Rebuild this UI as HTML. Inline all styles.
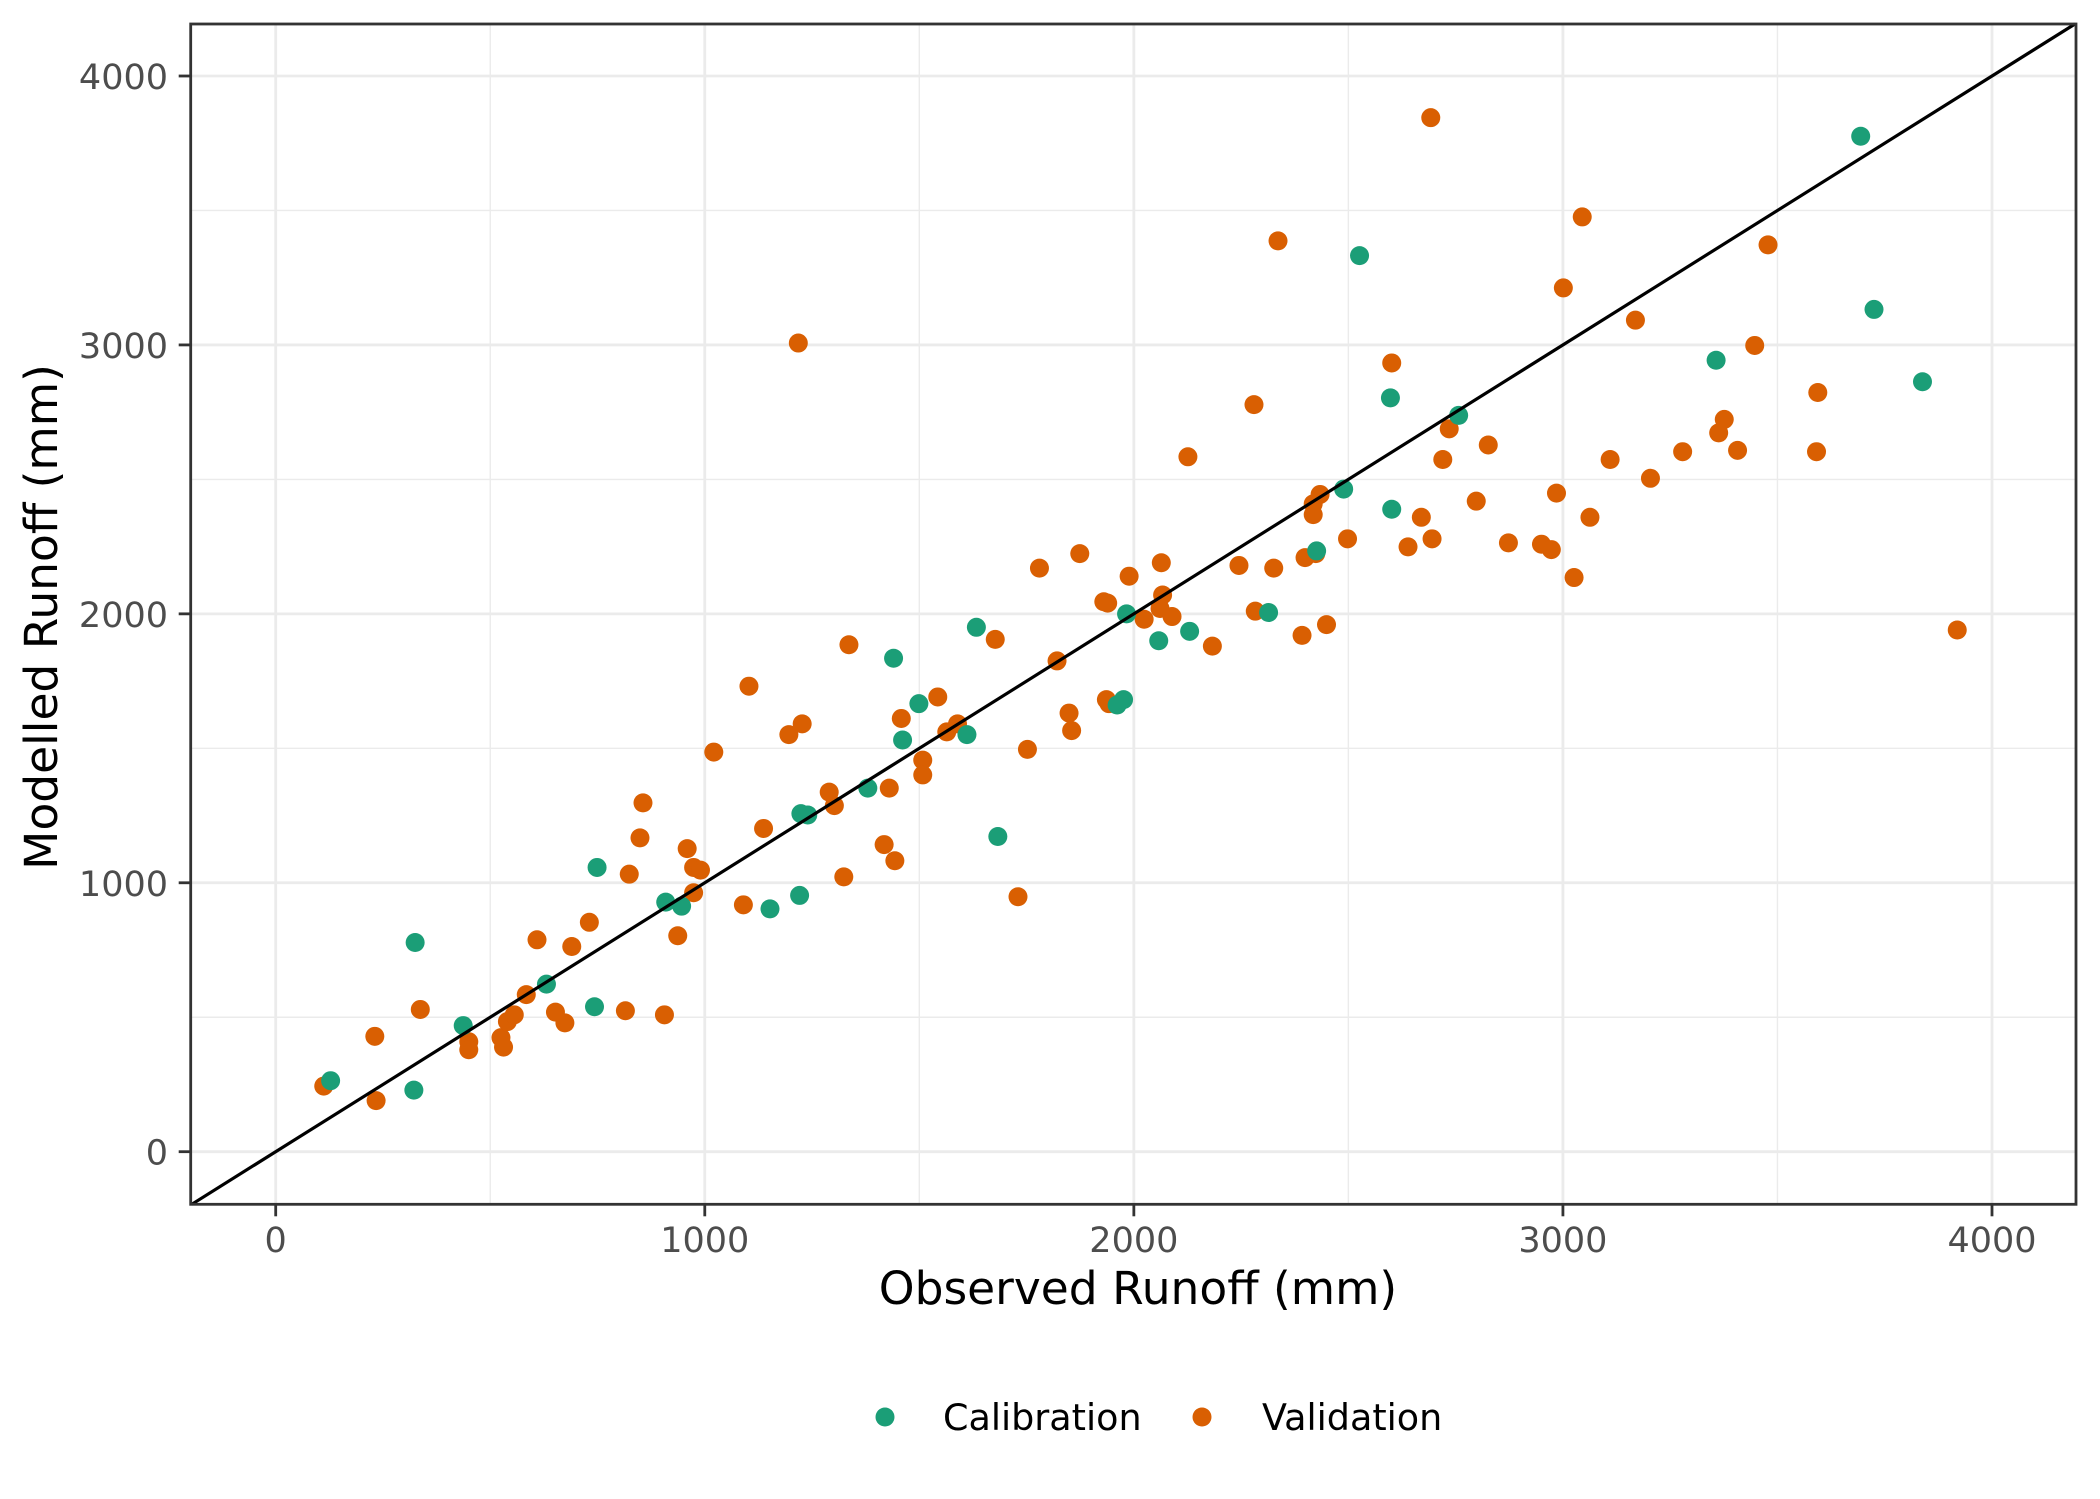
<!DOCTYPE html>
<html><head><meta charset="utf-8"><style>
html,body{margin:0;padding:0;background:#fff;}
svg{display:block;font-family:"DejaVu Sans","Liberation Sans",sans-serif;}
</style></head><body>
<svg id="chart" width="2100" height="1499" viewBox="0 0 2100 1499">
<rect x="0" y="0" width="2100" height="1499" fill="#fff"/>
<g id="grid"></g>
<g id="pts"></g>
<g id="axes"></g>
<text x="1138" y="1304" font-size="45.5" text-anchor="middle" fill="#000">Observed Runoff (mm)</text>
<text transform="translate(57,617) rotate(-90)" font-size="45.5" text-anchor="middle" fill="#000">Modelled Runoff (mm)</text>
<g>
<g>
<circle cx="885" cy="1417" r="9.5" fill="#1b9e77"/>
<text x="943" y="1430" font-size="36.5" fill="#000">Calibration</text>
</g>
<g>
<circle cx="1202" cy="1417" r="9.5" fill="#d95f02"/>
<text x="1262" y="1430" font-size="36.5" fill="#000">Validation</text>
</g>
</g>
</svg>
<script>
const xTicks = [0, 1000, 2000, 3000, 4000];
const yTicks = [0, 1000, 2000, 3000, 4000];
const minorTicks = [500, 1500, 2500, 3500];
const calObs = [128,325,322,437,631,749,743,909,946,1152,1221,1224,1240,1380,1440,1461,1499,1611,1633,1683,1961,1976,1983,2058,2130,2314,2426,2489,2526,2598,2601,2757,3357,3694,3725,3838];
const calMod = [264,778,229,469,623,1057,539,928,913,903,953,1257,1252,1352,1835,1531,1666,1551,1950,1172,1661,1681,2000,1900,1935,2005,2234,2464,3332,2803,2389,2738,2943,3776,3132,2863];
const valObs = [112,231,234,337,450,450,525,531,540,556,584,609,652,674,690,731,815,824,849,856,906,937,959,974,990,974,1021,1090,1103,1137,1196,1218,1227,1290,1302,1324,1336,1418,1430,1443,1458,1508,1508,1543,1564,1589,1677,1730,1752,1780,1821,1849,1855,1874,1930,1939,1936,1942,1989,2024,2061,2064,2067,2089,2126,2183,2245,2280,2283,2326,2336,2392,2399,2418,2418,2424,2434,2449,2498,2601,2639,2670,2692,2695,2720,2735,2798,2826,2873,2950,2973,2985,3001,3026,3045,3063,3110,3169,3204,3279,3363,3376,3407,3447,3478,3594,3591,3919];
const valMod = [244,429,190,529,409,379,424,389,484,509,584,788,519,479,763,853,524,1032,1167,1297,509,803,1127,1057,1047,963,1486,918,1731,1202,1551,3007,1591,1337,1287,1022,1885,1142,1352,1082,1611,1456,1401,1691,1561,1591,1905,948,1496,2170,1825,1631,1566,2224,2045,2040,1681,1666,2140,1980,2020,2190,2070,1990,2584,1880,2180,2778,2010,2170,3387,1920,2209,2409,2369,2224,2444,1960,2279,2933,2249,2359,3845,2279,2574,2688,2419,2628,2264,2259,2239,2449,3212,2135,3476,2359,2574,3092,2504,2603,2673,2723,2608,2998,3372,2823,2603,1940];

const L=190.7, R=2076, T=24, B=1204.3;
const X0=275.7, XS=(1992-275.7)/4000, Y0=1151.7, YS=(1151.7-76)/4000;
const sx = v => X0 + v*XS;
const sy = v => Y0 - v*YS;
const NS="http://www.w3.org/2000/svg";
function mk(tag, attrs, parent){const e=document.createElementNS(NS,tag);for(const k in attrs)e.setAttribute(k,attrs[k]);parent.appendChild(e);return e;}
const grid=document.getElementById('grid'), pts=document.getElementById('pts'), axes=document.getElementById('axes');

minorTicks.forEach(v=>{
  let a=mk('line',{x1:sx(v),x2:sx(v),y1:T,y2:B,stroke:'#ebebeb','stroke-width':1.4},grid);
  
  
  let b=mk('line',{x1:L,x2:R,y1:sy(v),y2:sy(v),stroke:'#ebebeb','stroke-width':1.4},grid);
  
  
});
xTicks.forEach(v=>{
  let a=mk('line',{x1:sx(v),x2:sx(v),y1:T,y2:B,stroke:'#ebebeb','stroke-width':2.8},grid);
  
  
  let t=mk('line',{x1:sx(v),x2:sx(v),y1:B,y2:B+12,stroke:'#333','stroke-width':2.8},axes);
  
  
  let l=mk('text',{x:sx(v),y:1252,'font-size':35,'text-anchor':'middle',fill:'#4d4d4d'},axes);
  l.textContent=v;
  
  
});
yTicks.forEach(v=>{
  let a=mk('line',{x1:L,x2:R,y1:sy(v),y2:sy(v),stroke:'#ebebeb','stroke-width':2.8},grid);
  
  
  let t=mk('line',{x1:L-12,x2:L,y1:sy(v),y2:sy(v),stroke:'#333','stroke-width':2.8},axes);
  
  
  let l=mk('text',{x:168,y:sy(v)+13,'font-size':35,'text-anchor':'end',fill:'#4d4d4d'},axes);
  l.textContent=v;
  
  
});
valObs.forEach((v,i)=>{
  let c=mk('circle',{cx:sx(v),cy:sy(valMod[i]),r:9.5,fill:'#d95f02'},pts);
  
  
});
calObs.forEach((v,i)=>{
  let c=mk('circle',{cx:sx(v),cy:sy(calMod[i]),r:9.5,fill:'#1b9e77'},pts);
  
  
});
const dMin=Math.max((L-X0)/XS,(Y0-B)/YS), dMax=Math.min((R-X0)/XS,(Y0-T)/YS);
let ln=mk('line',{x1:sx(dMin),y1:sy(dMin),x2:sx(dMax),y2:sy(dMax),stroke:'#000','stroke-width':3.2},axes);


let fr=mk('rect',{x:L,y:T,width:R-L,height:B-T,fill:'none',stroke:'#333','stroke-width':2.8},axes);


</script>
</body></html>
